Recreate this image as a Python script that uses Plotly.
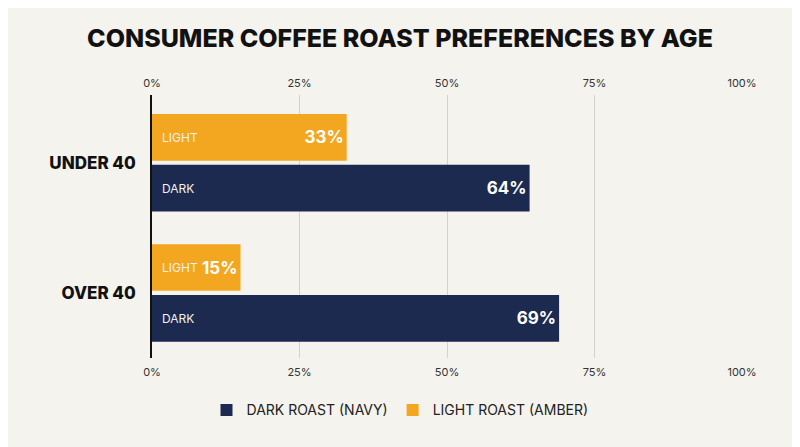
import plotly.graph_objects as go

age_groups = ["OVER 40", "UNDER 40"]
dark_values = [69, 64]
light_values = [15, 33]
tick_vals = [0, 25, 50, 75, 100]
tick_text = ["0%", "25%", "50%", "75%", "100%"]

NAVY = "#1c2a50"
AMBER = "#f3a721"
BG = "#f4f3ee"
FONT = "Inter, Lato, sans-serif"

fig = go.Figure()

fig.add_trace(go.Bar(
    y=age_groups, x=dark_values, orientation="h",
    name="DARK ROAST (NAVY)", marker=dict(color=NAVY, line=dict(width=0)),
    text=[f"{v}%" for v in dark_values], textposition="inside",
    insidetextanchor="end",
    textfont=dict(family=FONT, size=17, color="white", weight=700),
))
fig.add_trace(go.Bar(
    y=age_groups, x=light_values, orientation="h",
    name="LIGHT ROAST (AMBER)", marker=dict(color=AMBER, line=dict(width=0)),
    text=[f"{v}%" for v in light_values], textposition="inside",
    insidetextanchor="end",
    textfont=dict(family=FONT, size=17, color="white", weight=700),
))

# invisible trace so the bottom axis is drawn
fig.add_trace(go.Scatter(x=[0, 100], y=age_groups, xaxis="x2", mode="markers",
                         marker=dict(opacity=0), showlegend=False, hoverinfo="skip"))

# in-bar series labels
for i, cat in enumerate(age_groups):
    for lbl, off in (("DARK", -0.195), ("LIGHT", 0.195)):
        fig.add_annotation(x=0, y=i + off, xref="x", yref="y", text=lbl,
                           xanchor="left", yanchor="middle", xshift=8, showarrow=False,
                           font=dict(family=FONT, size=12, color="#f4f1e8"))

axis_font = dict(family=FONT, size=11, color="#333333")
fig.update_layout(
    width=800, height=447,
    paper_bgcolor=BG, plot_bgcolor=BG,
    margin=dict(l=144, r=66, t=87, b=97),
    barmode="group", bargap=0.22, bargroupgap=0.08,
    title=dict(text="CONSUMER COFFEE ROAST PREFERENCES BY AGE", x=0.49, xanchor="center",
               y=0.933, yanchor="middle",
               font=dict(family=FONT, size=25, color="#111111", weight=800)),
    xaxis=dict(range=[0, 100], side="top", tickvals=tick_vals, ticktext=tick_text,
               showgrid=True, gridcolor="#d2d2ce", gridwidth=1, zeroline=False,
               tickfont=axis_font, ticks="", ticklabelstandoff=5, automargin=False),
    xaxis2=dict(range=[0, 100], side="bottom", overlaying="x", anchor="y",
                tickvals=tick_vals, ticktext=tick_text, showgrid=False, zeroline=False,
                tickfont=axis_font, ticks="", ticklabelstandoff=6, automargin=False),
    yaxis=dict(categoryorder="array", categoryarray=age_groups, range=[-0.5, 1.52],
               showline=True, linecolor="#111111", linewidth=1.5, showgrid=False,
               ticks="", ticklabelstandoff=11, automargin=False,
               tickfont=dict(family=FONT, size=17, color="#111111", weight=800)),
    legend=dict(orientation="h", xref="container", x=0.49, xanchor="center",
                yref="container", y=0.1, yanchor="middle",
                font=dict(family=FONT, size=14, color="#222222"),
                traceorder="normal", itemsizing="constant"),
    showlegend=True,
)

fig.write_html("out.html")
